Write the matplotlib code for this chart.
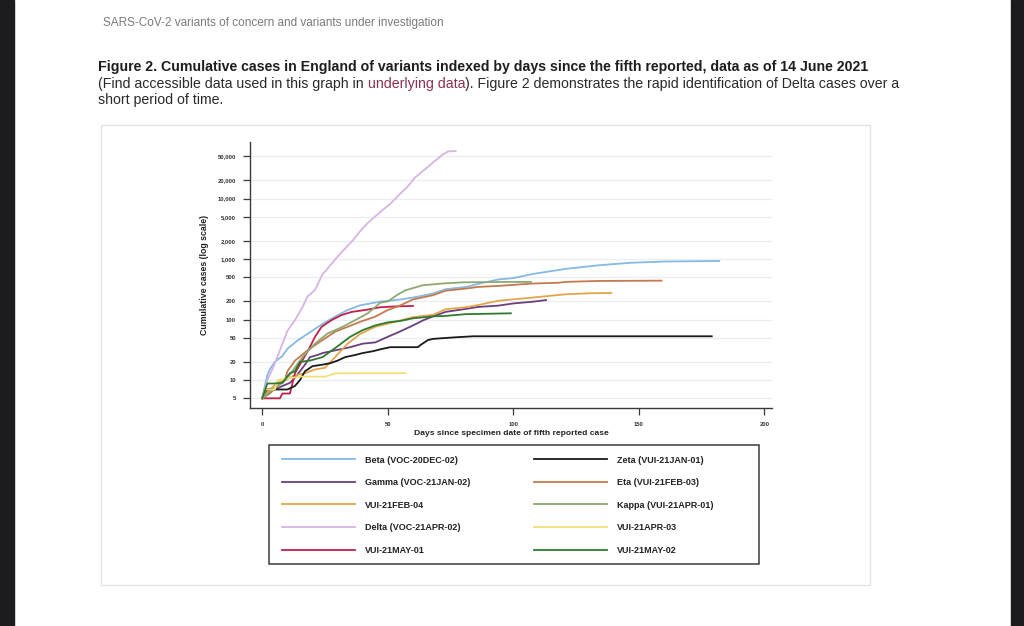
import matplotlib
matplotlib.use('Agg')
import matplotlib.pyplot as plt
from matplotlib.patches import Rectangle
from matplotlib.ticker import FuncFormatter, NullLocator

W, H = 1024, 626

# series (days since 5th case, cumulative cases)
beta_days = [0, 1, 2, 3, 5, 8, 10, 14, 18, 24, 29, 34, 39, 47, 55, 61, 68, 73, 81, 86, 94, 100, 108, 121, 134, 147, 160, 182]
beta_cases = [5, 8, 12, 15, 20, 25, 33, 45, 58, 85, 112, 144, 172, 198, 215, 235, 270, 318, 345, 389, 460, 485, 570, 690, 790, 870, 910, 930]

zeta_days = [0, 1, 5, 10, 13, 15, 17, 20, 24, 27, 30, 33, 37, 40, 44, 48, 51, 56, 62, 63, 66, 68, 71, 77, 84, 100, 150, 179]
zeta_cases = [5, 7, 7, 7, 8, 10, 14, 17, 18, 19, 21, 24, 26, 28, 30, 33, 35, 35, 35, 38, 46, 48, 49, 51, 53, 53, 53, 53]

gamma_days = [0, 2, 5, 8, 11, 13, 15, 17, 19, 22, 24, 29, 35, 40, 45, 50, 55, 60, 64, 68, 73, 81, 86, 94, 100, 108, 113]
gamma_cases = [5, 7, 7, 8, 9, 11, 14, 18, 24, 26, 28, 31, 35, 40, 42, 52, 64, 80, 97, 113, 134, 150, 162, 170, 185, 198, 210]

feb04_days = [0, 3, 6, 9, 13, 17, 21, 25, 29, 34, 39, 45, 53, 60, 68, 73, 81, 86, 94, 100, 108, 118, 121, 130, 139]
feb04_cases = [5, 7, 9, 10, 12, 13, 15, 16, 24, 40, 58, 76, 92, 110, 120, 148, 160, 174, 205, 216, 232, 255, 262, 272, 276]

delta_days = [0, 1, 2, 4, 6, 8, 10, 13, 16, 18, 21, 24, 27, 30, 33, 36, 39, 42, 45, 48, 51, 54, 58, 61, 65, 69, 72, 74, 77]
delta_cases = [5, 7, 10, 15, 24, 40, 65, 98, 160, 240, 310, 560, 780, 1100, 1500, 2030, 2900, 3950, 5100, 6500, 8200, 11000, 16000, 22600, 31000, 42600, 54000, 60000, 61000]

may01_days = [0, 7, 8, 11, 12, 13, 15.6, 18.3, 21, 23.6, 27.6, 31.6, 35.6, 41, 47, 53, 60]
may01_cases = [5, 5, 6, 6, 8.8, 13, 20, 31, 52, 76, 98, 119, 134, 144, 160, 165, 168]

eta_days = [0, 3, 6, 9, 10, 13, 18, 24, 29, 34, 39, 45, 50, 55, 60, 68, 73, 81, 86, 94, 107, 118, 121, 134, 159]
eta_cases = [5, 6, 8, 10, 14, 21, 31, 46, 63, 76, 92, 112, 144, 172, 215, 253, 300, 325, 347, 360, 393, 406, 420, 435, 440]

kappa_days = [0, 4, 8, 10, 13, 16, 21, 26, 32, 37, 42, 47, 50, 54, 57, 64, 72, 80, 95, 107]
kappa_cases = [5, 7, 9, 11, 16, 24, 40, 59, 76, 98, 127, 190, 200, 260, 305, 370, 395, 413, 418, 420]

apr03_days = [0, 1, 5, 6, 10, 15, 25, 29, 40, 57]
apr03_cases = [5, 7, 7, 10, 10.7, 11.4, 11.4, 12.9, 13, 13]

may02_days = [0, 2, 5, 8, 11, 13, 15, 19, 24, 29.5, 35, 40, 45, 50, 55, 60, 68, 73, 81, 86, 99]
may02_cases = [5, 8.8, 8.8, 9, 13, 14, 20, 21, 24, 35, 52, 67, 80, 90, 95, 105, 113, 115, 123, 124, 127]

ytick_vals = [5, 10, 20, 50, 100, 200, 500, 1000, 2000, 5000, 10000, 20000, 50000]
xtick_vals = [0, 50, 100, 150, 200]

# legend order: column 1 then column 2
series = [
    ('Beta (VOC-20DEC-02)', beta_days, beta_cases, '#86b9e3'),
    ('Gamma (VOC-21JAN-02)', gamma_days, gamma_cases, '#6b3f7c'),
    ('VUI-21FEB-04', feb04_days, feb04_cases, '#e3a54c'),
    ('Delta (VOC-21APR-02)', delta_days, delta_cases, '#d5b5e3'),
    ('VUI-21MAY-01', may01_days, may01_cases, '#c2204c'),
    ('Zeta (VUI-21JAN-01)', zeta_days, zeta_cases, '#1a1a1a'),
    ('Eta (VUI-21FEB-03)', eta_days, eta_cases, '#c47a4e'),
    ('Kappa (VUI-21APR-01)', kappa_days, kappa_cases, '#8ea873'),
    ('VUI-21APR-03', apr03_days, apr03_cases, '#efe07a'),
    ('VUI-21MAY-02', may02_days, may02_cases, '#2e7b30'),
]


def fx(x):
    return x / W


def fy(y):
    return 1 - y / H


fig = plt.figure(figsize=(W / 100, H / 100), dpi=100)
fig.patch.set_facecolor('white')

# dark screen edges
fig.add_artist(Rectangle((0, 0), fx(14), 1, transform=fig.transFigure, color='#1c1c1e', zorder=0))
fig.add_artist(Rectangle((fx(1011), 0), 1, 1, transform=fig.transFigure, color='#1c1c1e', zorder=0))

# chart frame
fig.add_artist(Rectangle((fx(101), fy(585)), fx(870 - 101), (585 - 125) / H, transform=fig.transFigure,
                         facecolor='white', edgecolor='#e4e4e4', lw=1.0, zorder=0))

doc_font = ['Liberation Sans', 'DejaVu Sans']
fig.text(fx(103), fy(23), 'SARS-CoV-2 variants of concern and variants under investigation',
         fontsize=8.5, color='#7a7a7a', family=doc_font, va='center')
fig.text(fx(98), fy(67), 'Figure 2. Cumulative cases in England of variants indexed by days since the fifth reported, '
         'data as of 14 June 2021', fontsize=10.2, fontweight='bold', color='#1e1e1e', family=doc_font, va='center')

# second line with the link coloured part
renderer = fig.canvas.get_renderer()
x_cur = fx(98)
for part, col in [('(Find accessible data used in this graph in ', '#2a2a2a'),
                  ('underlying data', '#8a3050'),
                  ('). Figure 2 demonstrates the rapid identification of Delta cases over a', '#2a2a2a')]:
    t = fig.text(x_cur, fy(84), part, fontsize=10.15, color=col, family=doc_font, va='center')
    bb = t.get_window_extent(renderer=renderer)
    x_cur += bb.width / W
fig.text(fx(98), fy(100), 'short period of time.', fontsize=10.15, color='#2a2a2a', family=doc_font, va='center')

# plot area
ax = fig.add_axes([fx(250), fy(408), (772 - 250) / W, (408 - 142) / H])
for label, d, c, col in series:
    ax.plot(d, c, color=col, lw=1.3, label=label, solid_joinstyle='round')

ax.set_yscale('log')
ax.set_ylim(3.46, 86000)
ax.set_xlim(-4.9, 203)
ax.set_yticks(ytick_vals)
ax.yaxis.set_minor_locator(NullLocator())
ax.yaxis.set_major_formatter(FuncFormatter(lambda v, p: f'{int(v):,}'))
ax.set_xticks(xtick_vals)
ax.grid(axis='y', color='#e8eef3', lw=0.9)
ax.set_axisbelow(True)
for s in ['top', 'right']:
    ax.spines[s].set_visible(False)
for s in ['left', 'bottom']:
    ax.spines[s].set_color('#3a3a3a')
    ax.spines[s].set_linewidth(1.0)
ax.tick_params(axis='both', length=5, width=0.9, color='#3a3a3a', labelsize=4.2, labelcolor='#333333', pad=5)
for lab in ax.get_xticklabels() + ax.get_yticklabels():
    lab.set_fontweight('bold')
    lab.set_family('Liberation Sans')

ax.set_ylabel('Cumulative cases (log scale)', fontsize=6.3, fontweight='bold', family='Liberation Sans',
              color='#222222', labelpad=6.5)
ax.set_xlabel('Days since specimen date of fifth reported case', fontsize=6.1, fontweight='bold',
              family='Liberation Sans', color='#222222', labelpad=2)

# legend box
fig.add_artist(Rectangle((fx(269), fy(564)), fx(759 - 269), (564 - 445) / H, transform=fig.transFigure,
                         facecolor='none', edgecolor='#3a3a3a', lw=1.1, zorder=3))
leg = ax.legend(loc='upper left', bbox_to_anchor=(fx(277), fy(451)), bbox_transform=fig.transFigure,
                ncol=2, frameon=False, borderpad=0, handlelength=8.1, handletextpad=1.15,
                columnspacing=7.0, labelspacing=1.5, prop={'family': 'Liberation Sans', 'weight': 'bold', 'size': 6.5})
for t in leg.get_texts():
    t.set_color('#222222')

fig.savefig('out.png', dpi=100)
